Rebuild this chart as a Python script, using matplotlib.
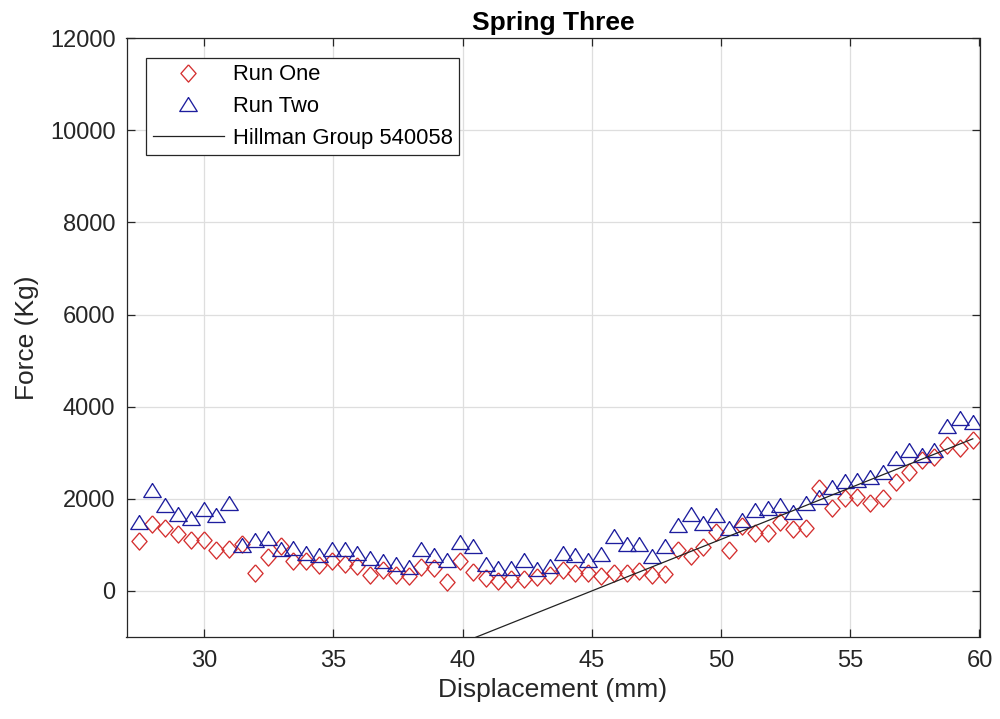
import matplotlib
matplotlib.use('Agg')
import matplotlib.pyplot as plt

plt.rcParams['font.family'] = ['Liberation Sans', 'DejaVu Sans']

# displacement positions of the samples (mm)
displacement = [27.50, 28.00, 28.49, 28.99, 29.48, 29.98, 30.48, 30.97, 31.47, 31.96,
                32.46, 32.96, 33.45, 33.95, 34.44, 34.94, 35.44, 35.93, 36.43, 36.92,
                37.42, 37.92, 38.41, 38.91, 39.40, 39.90, 40.40, 40.89, 41.39, 41.88,
                42.38, 42.88, 43.37, 43.87, 44.36, 44.86, 45.36, 45.85, 46.35, 46.84,
                47.34, 47.84, 48.33, 48.83, 49.32, 49.82, 50.32, 50.81, 51.31, 51.80,
                52.30, 52.80, 53.29, 53.79, 54.28, 54.78, 55.28, 55.77, 56.27, 56.76,
                57.26, 57.76, 58.25, 58.75, 59.24, 59.74]

run_one = [1090, 1460, 1370, 1240, 1110, 1100, 890, 900, 1030, 390,
           740, 980, 650, 640, 560, 660, 590, 540, 350, 460,
           350, 330, 530, 500, 190, 640, 420, 280, 220, 260,
           260, 310, 350, 450, 380, 380, 320, 390, 400, 430,
           350, 370, 890, 760, 960, 1290, 890, 1400, 1252, 1266,
           1504, 1339, 1360, 2229, 1795, 2012, 2047, 1916, 2012, 2372,
           2589, 2843, 2915, 3168, 3096, 3277]

run_two = [1500, 2190, 1860, 1670, 1590, 1780, 1640, 1920, 1000, 1100,
           1150, 920, 940, 820, 780, 920, 910, 830, 710, 640,
           590, 510, 900, 780, 670, 1060, 970, 590, 490, 490,
           680, 470, 540, 830, 790, 680, 800, 1190, 1030, 1030,
           750, 970, 1430, 1680, 1470, 1650, 1360, 1540, 1760, 1790,
           1860, 1720, 1900, 2050, 2260, 2390, 2400, 2480, 2590, 2880,
           3060, 2950, 3060, 3570, 3750, 3670]

# reference spring line
hillman_x = [27.50, 59.74]
hillman_y = [-3920, 3302]

diamond = [(0, 1), (0.88, 0), (0, -1), (-0.88, 0), (0, 1)]
triangle = [(0, 0.8), (-1, -0.8), (1, -0.8), (0, 0.8)]

fig = plt.figure(figsize=(10, 7.19), dpi=100)
ax = fig.add_axes([0.1265, 0.114, 0.853, 0.833])

ax.plot(displacement, run_one, linestyle='none', marker=diamond, markersize=12.4,
        markerfacecolor='none', markeredgecolor='#d43030', markeredgewidth=0.95,
        label='Run One')
ax.plot(displacement, run_two, linestyle='none', marker=triangle, markersize=12.6,
        markerfacecolor='none', markeredgecolor='#1e1e9e', markeredgewidth=0.95,
        label='Run Two')
ax.plot(hillman_x, hillman_y, color='#222222', linewidth=0.9, label='Hillman Group 540058')

ax.set_xlim(27, 60)
ax.set_ylim(-1000, 12000)
ax.set_xticks(range(30, 61, 5))
ax.set_yticks(range(0, 12001, 2000))

ax.grid(True, color='#dedede', linewidth=0.9)
ax.set_axisbelow(True)
for s in ax.spines.values():
    s.set_color('#262626')
    s.set_linewidth(0.9)
ax.tick_params(direction='in', length=6, width=0.9, color='#262626',
               labelcolor='#262626', labelsize=17, top=True, right=True)
ax.tick_params(axis='x', pad=9)
ax.tick_params(axis='y', pad=8)

ax.set_title('Spring Three', fontsize=19, fontweight='bold', pad=6)
ax.set_xlabel('Displacement (mm)', fontsize=19, color='#262626', labelpad=5)
ax.set_ylabel('Force (Kg)', fontsize=19, color='#262626', labelpad=8)

leg = ax.legend(loc='upper left', bbox_to_anchor=(0.023, 0.967), borderaxespad=0,
                fontsize=15.8, fancybox=False, framealpha=1, edgecolor='#262626',
                handlelength=3.25, handletextpad=0.4, labelspacing=0.48, borderpad=0.3)
leg.get_frame().set_linewidth(0.9)

plt.savefig('out.png', dpi=100)
